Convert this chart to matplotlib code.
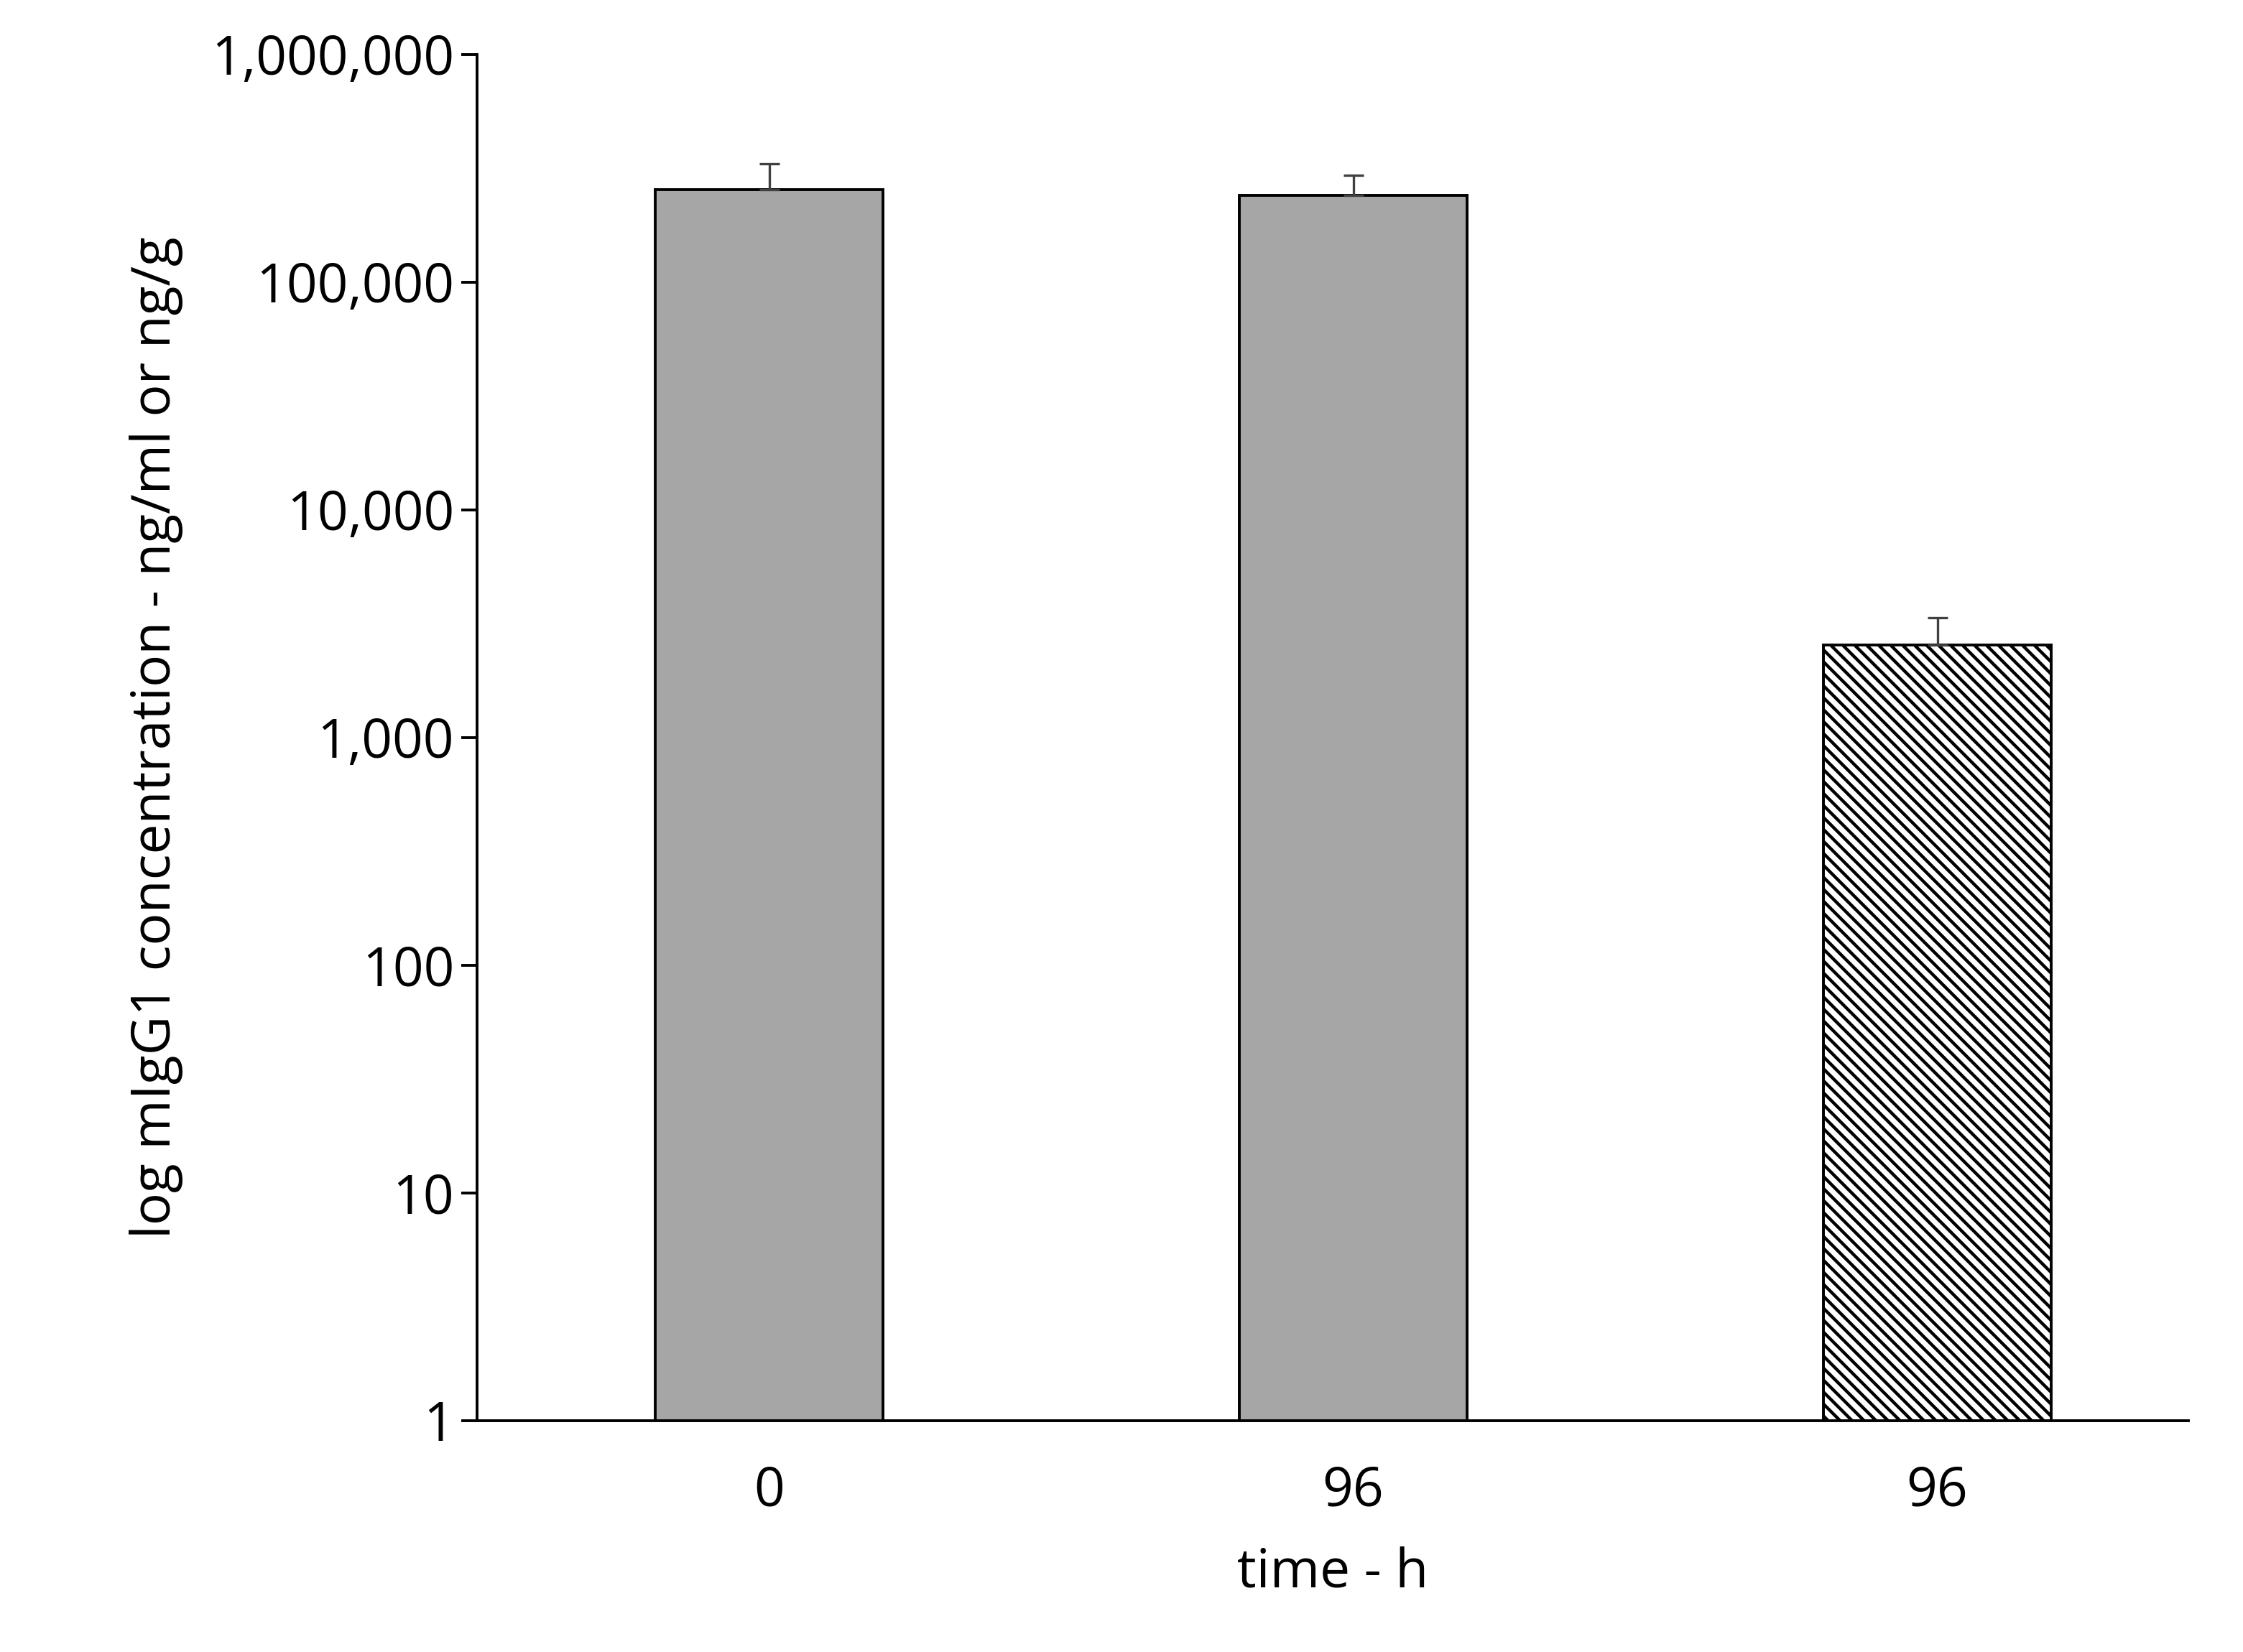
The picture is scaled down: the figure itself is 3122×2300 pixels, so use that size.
import matplotlib.pyplot as plt
from matplotlib.ticker import FixedLocator, FixedFormatter

categories = ['0', '96', '96']
values = [255000, 240000, 2550]
err_up = [76000, 55000, 810]
colors = ['#a6a6a6', '#a6a6a6', 'white']
hatches = [None, None, '\\\\\\\\']
yticks = [1, 10, 100, 1000, 10000, 100000, 1000000]
ytick_labels = ['1', '10', '100', '1,000', '10,000', '100,000', '1,000,000']

plt.rcParams['font.family'] = ['Open Sans', 'DejaVu Sans']
plt.rcParams['hatch.linewidth'] = 1.6

fig = plt.figure(figsize=(15.61, 11.5), dpi=200)
ax = fig.add_axes([0.2127, 0.14, 0.763, 0.827])

x = list(range(len(categories)))
for i in x:
    ax.bar(i, values[i], width=0.39, color=colors[i], edgecolor='black',
           linewidth=1.4, hatch=hatches[i], zorder=2)
    ax.errorbar(i, values[i], yerr=[[0], [err_up[i]]], fmt='none', ecolor='#404040',
                elinewidth=1.2, capsize=5, capthick=1.2, zorder=3)

ax.set_yscale('log')
ax.set_ylim(1, 1000000)
ax.set_xlim(-0.5, 2.43)
ax.yaxis.set_major_locator(FixedLocator(yticks))
ax.yaxis.set_major_formatter(FixedFormatter(ytick_labels))
ax.yaxis.set_minor_locator(FixedLocator([]))
ax.set_xticks(x)
ax.set_xticklabels(categories)
ax.tick_params(axis='y', labelsize=27, length=8, width=1.4, direction='out')
ax.tick_params(axis='x', labelsize=27, length=0, pad=22)
ax.spines['top'].set_visible(False)
ax.spines['right'].set_visible(False)
for s in ('left', 'bottom'):
    ax.spines[s].set_linewidth(1.4)
ax.set_xlabel('time - h', fontsize=27, labelpad=14)
ax.set_ylabel('log mIgG1 concentration - ng/ml or ng/g', fontsize=27, labelpad=14)

fig.savefig('out.png', dpi=200)
